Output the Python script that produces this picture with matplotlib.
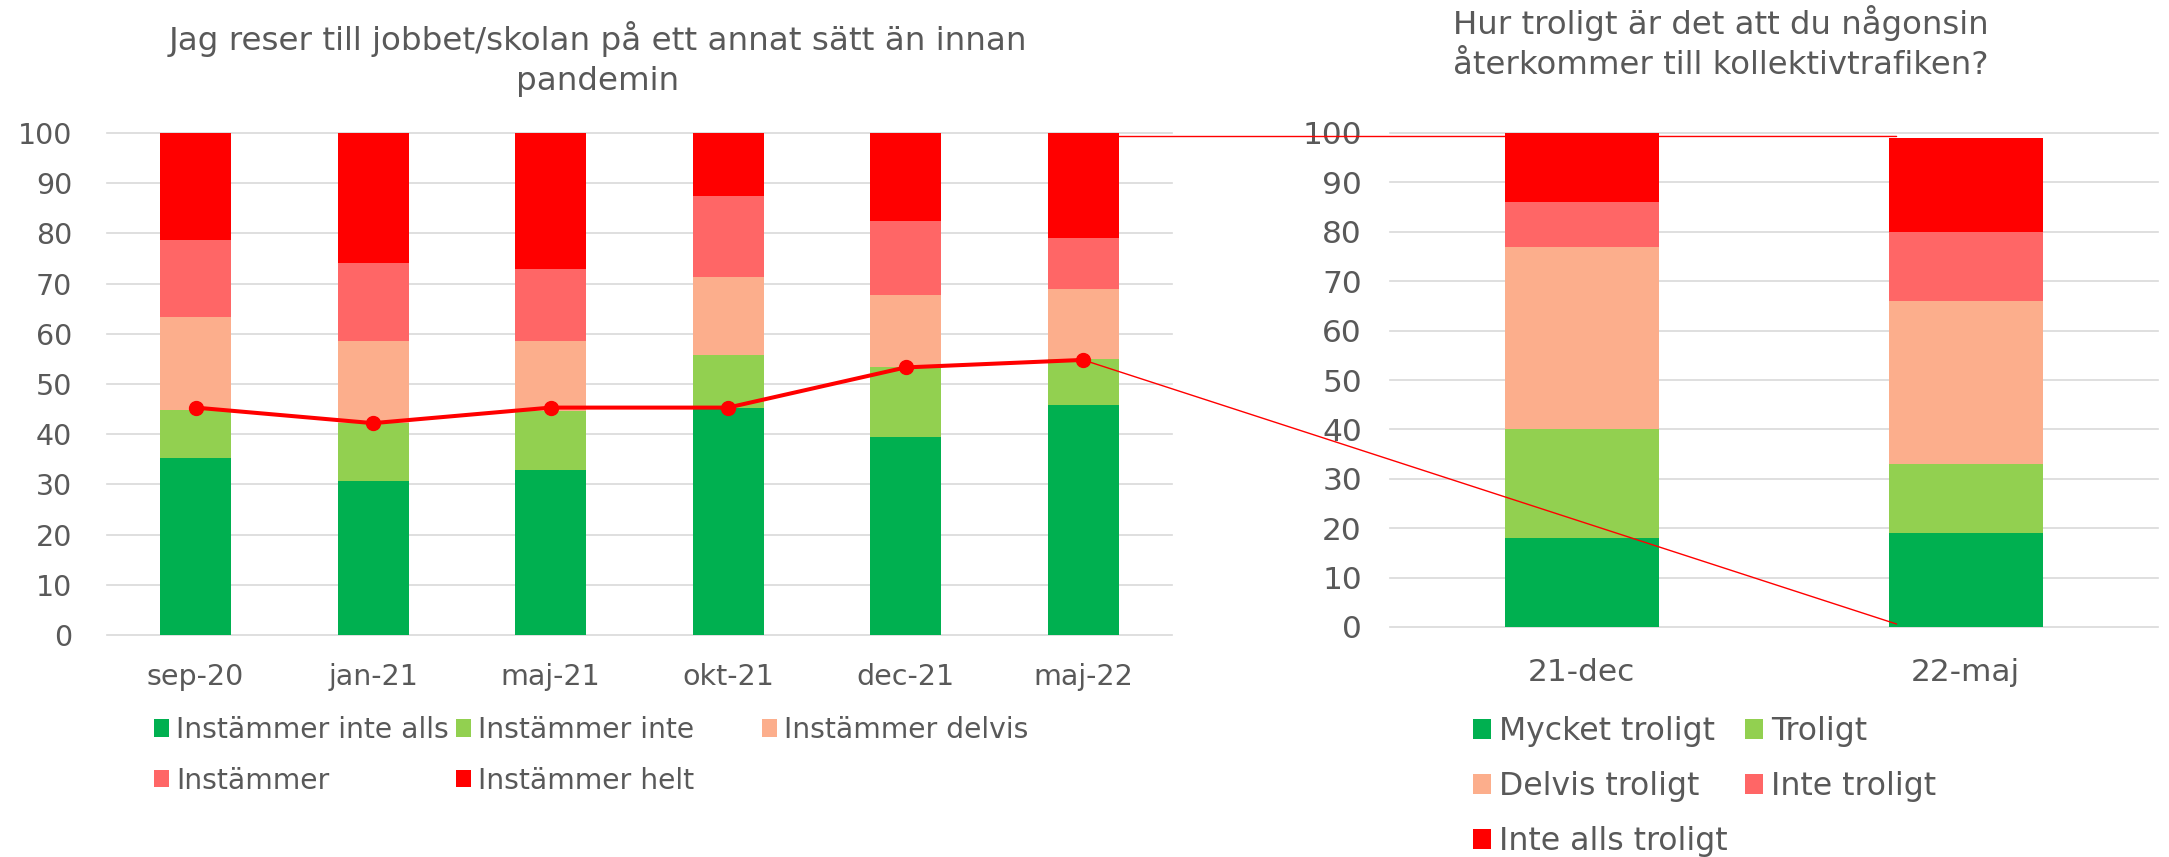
import matplotlib
matplotlib.use('Agg')
import matplotlib.pyplot as plt
import numpy as np
from matplotlib.patches import ConnectionPatch

# Data - left chart (share of respondents, %)
periods = ['sep-20', 'jan-21', 'maj-21', 'okt-21', 'dec-21', 'maj-22']
instammer_inte_alls = [35.2, 30.7, 32.8, 45.3, 39.5, 45.9]
instammer_inte = [9.6, 11.6, 11.8, 10.5, 13.8, 9.1]
instammer_delvis = [18.5, 16.2, 13.9, 15.5, 14.5, 14.0]
instammer = [15.4, 15.7, 14.5, 16.1, 14.7, 10.0]
instammer_helt = [21.3, 25.8, 27.0, 12.6, 17.5, 21.0]
linje = [45.3, 42.2, 45.3, 45.3, 53.3, 54.8]

left_labels = ['Instämmer inte alls', 'Instämmer inte', 'Instämmer delvis',
               'Instämmer', 'Instämmer helt']

# Data - right chart
dates = ['21-dec', '22-maj']
mycket_troligt = [18, 19]
troligt = [22, 14]
delvis_troligt = [37, 33]
inte_troligt = [9, 14]
inte_alls_troligt = [14, 19]

right_labels = ['Mycket troligt', 'Troligt', 'Delvis troligt', 'Inte troligt',
                'Inte alls troligt']

colors = ['#00B050', '#92D050', '#FCAE8C', '#FF6666', '#FF0000']
grey = '#595959'
plt.rcParams['font.family'] = ['DejaVu Sans']

W, H = 2169, 857
fig = plt.figure(figsize=(W / 100, H / 100), dpi=100)
ax1 = fig.add_axes([106.8 / W, 1 - 635 / H, 1065 / W, 502 / H])
ax2 = fig.add_axes([1389.7 / W, 1 - 627 / H, 768 / W, 494 / H])


def stacked(ax, cats, series, fs, ypad, xpad):
    x = np.arange(len(cats))
    bottom = np.zeros(len(cats))
    handles = []
    for vals, c in zip(series, colors):
        b = ax.bar(x, vals, 0.4, bottom=bottom, color=c, zorder=2)
        handles.append(b)
        bottom += np.array(vals)
    ax.set_xlim(-0.5, len(cats) - 0.5)
    ax.set_ylim(0, 100)
    ax.set_xticks(x)
    ax.set_xticklabels(cats)
    ax.set_yticks(range(0, 101, 10))
    ax.grid(axis='y', color='#D9D9D9', lw=1.2, zorder=0)
    for gl in ax.get_ygridlines():
        gl.set_clip_on(False)
    for s in ax.spines.values():
        s.set_visible(False)
    ax.tick_params(axis='both', length=0, labelcolor=grey)
    ax.tick_params(axis='x', labelsize=fs, pad=xpad)
    ax.tick_params(axis='y', labelsize=fs, pad=ypad)
    return x, handles


x1, h1 = stacked(ax1, periods, [instammer_inte_alls, instammer_inte, instammer_delvis,
                                instammer, instammer_helt], 20.5, 25, 20)
ax1.plot(x1, linje, color='#FF0000', lw=2.9, marker='o', ms=10, zorder=3)

x2, h2 = stacked(ax2, dates, [mycket_troligt, troligt, delvis_troligt, inte_troligt,
                              inte_alls_troligt], 22.5, 20, 22)

# Titles
fig.text(598 / W, 1 - 59 / H, 'Jag reser till jobbet/skolan på ett annat sätt än innan\npandemin',
         ha='center', va='center', fontsize=23.4, color=grey, linespacing=1.4)
fig.text(1721 / W, 1 - 43 / H, 'Hur troligt är det att du någonsin\nåterkommer till kollektivtrafiken?',
         ha='center', va='center', fontsize=23.3, color=grey, linespacing=1.38)


# Legends, one per column so the columns line up like the original
def col_legend(handles, labels, x, ytop, fs, hl, hh, spacing):
    fig.legend(handles, labels, loc='upper left', bbox_to_anchor=(x / W, 1 - ytop / H),
               frameon=False, fontsize=fs, labelcolor=grey, handlelength=hl,
               handleheight=hh, handletextpad=0.25, labelspacing=spacing,
               borderpad=0, borderaxespad=0)


col_legend([h1[0], h1[3]], [left_labels[0], left_labels[3]], 153.5, 716, 20.3, 0.54, 0.57, 0.8)
col_legend([h1[1], h1[4]], [left_labels[1], left_labels[4]], 456, 716, 20.3, 0.54, 0.57, 0.8)
col_legend([h1[2]], [left_labels[2]], 762, 716, 20.3, 0.54, 0.57, 0.8)

col_legend([h2[0], h2[2], h2[4]], [right_labels[0], right_labels[2], right_labels[4]],
           1473, 716, 22.7, 0.58, 0.58, 0.76)
col_legend([h2[1], h2[3]], [right_labels[1], right_labels[3]], 1745, 716, 22.7, 0.58, 0.58, 0.76)

# Red connector lines between the two charts
con1 = ConnectionPatch(xyA=(5.2, 99.3), coordsA=ax1.transData, xyB=(0.82, 99.3),
                       coordsB=ax2.transData, color='#FF0000', lw=1)
con2 = ConnectionPatch(xyA=(5, linje[-1]), coordsA=ax1.transData, xyB=(0.82, 0.6),
                       coordsB=ax2.transData, color='#FF0000', lw=1)
fig.add_artist(con1)
fig.add_artist(con2)

fig.savefig('out.png', dpi=100)
